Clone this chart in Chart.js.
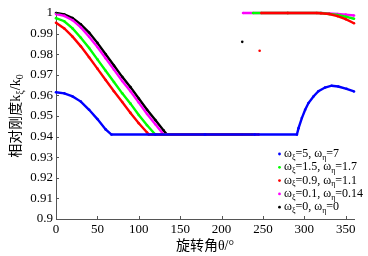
<!DOCTYPE html>
<html>
<head>
<meta charset="utf-8">
<script src="https://cdn.jsdelivr.net/npm/chart.js@4"></script>
<style>
  html, body { margin: 0; padding: 0; background: #fff; }
</style>
</head>
<body>
<canvas id="chart1" width="368" height="256"></canvas>
<script>
// rotation angle (deg) -> relative stiffness k_xi/k_0
const blueAngle = [0, 10, 20, 30, 40, 50, 60, 67, 120, 180, 240, 291, 293, 297, 301, 305, 311, 317, 325, 333, 341, 351, 360];
const blueK = [0.9615, 0.961, 0.9595, 0.957, 0.953, 0.9485, 0.9435, 0.941, 0.941, 0.941, 0.941, 0.941, 0.9441, 0.949, 0.953, 0.9563, 0.9595, 0.962, 0.9638, 0.9647, 0.9643, 0.9632, 0.9619];

const greenAngle = [0, 10, 20, 30, 40, 50, 60, 70, 80, 90, 100, 110, 120, 180, 237, 237.5, 238, 280, 320, 330, 340, 350, 360];
const greenK = [0.9975, 0.996, 0.9925, 0.988, 0.983, 0.9775, 0.972, 0.9665, 0.961, 0.956, 0.9505, 0.9455, 0.941, 0.941, 0.941, null, 1, 1, 1, 0.9995, 0.999, 0.9982, 0.9972];

const redAngle = [0, 10, 20, 30, 40, 50, 60, 70, 80, 90, 100, 110, 112, 180, 245, 245.5, 246, 246.5, 248, 280, 315, 320, 330, 340, 350, 360];
const redK = [0.9953, 0.9925, 0.9885, 0.9838, 0.9785, 0.973, 0.9675, 0.962, 0.9568, 0.9515, 0.9465, 0.942, 0.941, 0.941, 0.941, null, 0.9817, null, 1, 1, 1, 0.9999, 0.9995, 0.9985, 0.997, 0.995];

const magentaAngle = [0, 10, 20, 30, 40, 50, 60, 70, 80, 90, 100, 110, 120, 130, 180, 225, 225.5, 226, 280, 320, 330, 340, 350, 360];
const magentaK = [0.9995, 0.9986, 0.9965, 0.993, 0.9885, 0.9835, 0.978, 0.9725, 0.967, 0.962, 0.9565, 0.951, 0.946, 0.941, 0.941, 0.941, null, 1, 1, 1, 0.9998, 0.9995, 0.9992, 0.9988];

const blackAngle = [0, 10, 20, 30, 40, 50, 60, 70, 80, 90, 100, 110, 120, 130, 134, 180, 224, 224.5, 225];
const blackK = [1.0, 0.9993, 0.9975, 0.9945, 0.9905, 0.9855, 0.980, 0.9745, 0.969, 0.964, 0.9585, 0.953, 0.948, 0.943, 0.941, 0.941, 0.941, null, 0.986];

// legend: omega_xi, omega_eta
const omegaXi = ['5', '1.5', '0.9', '0.1', '0'];
const omegaEta = ['7', '1.7', '1.1', '0.14', '0'];
const colors = ['#0000ff', '#00ff00', '#ff0000', '#ff00ff', '#000000'];

const xTicks = [0, 50, 100, 150, 200, 250, 300, 350];

function pts(xs, ys) {
    return xs.map((x, i) => ({ x: x, y: ys[i] }));
}

function makeSet(label, xs, ys, color, order) {
    return {
        label: label,
        data: pts(xs, ys),
        borderColor: color,
        backgroundColor: color,
        borderWidth: 2.4,
        pointRadius: 1.3,
        pointBorderWidth: 0,
        showLine: true,
        spanGaps: false,
        clip: false,
        order: order
    };
}

const serif = "'Liberation Serif', 'Times New Roman', serif";
const cjk = "'Liberation Serif', 'Noto Sans CJK SC', serif";

// draws text parts with subscripts, starting at x (left aligned), baseline middle at y
function richWidth(ctx, parts, size) {
    let w = 0;
    parts.forEach(p => {
        ctx.font = (p.sub ? Math.round(size * 0.7) : size) + 'px ' + (p.cjk ? cjk : serif);
        w += ctx.measureText(p.t).width;
    });
    return w;
}
function drawRich(ctx, parts, x, y, size) {
    parts.forEach(p => {
        ctx.font = (p.sub ? Math.round(size * 0.7) : size) + 'px ' + (p.cjk ? cjk : serif);
        ctx.fillText(p.t, x, p.sub ? y + size * 0.3 : y);
        x += ctx.measureText(p.t).width;
    });
}

const extras = {
    id: 'extras',
    afterDraw(chart) {
        const ctx = chart.ctx;
        const area = chart.chartArea;
        const xs = chart.scales.x, ys = chart.scales.y;
        ctx.save();
        // inward tick marks
        ctx.strokeStyle = '#555';
        ctx.lineWidth = 1;
        ctx.beginPath();
        xs.ticks.forEach(t => {
            const px = Math.round(xs.getPixelForValue(t.value)) + 0.5;
            ctx.moveTo(px, area.bottom);
            ctx.lineTo(px, area.bottom - 3);
        });
        ys.ticks.forEach(t => {
            const py = Math.round(ys.getPixelForValue(t.value)) + 0.5;
            ctx.moveTo(area.left, py);
            ctx.lineTo(area.left + 3, py);
        });
        ctx.stroke();

        ctx.fillStyle = '#000';
        ctx.textBaseline = 'middle';
        ctx.textAlign = 'left';

        // x axis title
        const xt = [{ t: '旋转角', cjk: true }, { t: 'θ/°' }];
        const xw = richWidth(ctx, xt, 14);
        drawRich(ctx, xt, (area.left + area.right) / 2 - xw / 2, 246, 14);

        // y axis title
        const yt = [{ t: '相对刚度', cjk: true }, { t: 'k' }, { t: 'ξ', sub: true }, { t: '/k' }, { t: '0', sub: true }];
        const yw = richWidth(ctx, yt, 14);
        ctx.save();
        ctx.translate(16, (area.top + area.bottom) / 2);
        ctx.rotate(-Math.PI / 2);
        drawRich(ctx, yt, -yw / 2, 0, 14);
        ctx.restore();

        // legend
        for (let i = 0; i < omegaXi.length; i++) {
            const ly = 154 + i * 13.3;
            ctx.fillStyle = colors[i];
            ctx.beginPath();
            ctx.arc(279.5, ly, 1.4, 0, Math.PI * 2);
            ctx.fill();
            ctx.fillStyle = '#000';
            drawRich(ctx, [
                { t: 'ω' }, { t: 'ξ', sub: true }, { t: '=' + omegaXi[i] + ', ω' },
                { t: 'η', sub: true }, { t: '=' + omegaEta[i] }
            ], 284, ly, 12);
        }
        ctx.restore();
    }
};

var ctx1 = document.getElementById('chart1').getContext('2d');
var chart1 = new Chart(ctx1, {
    type: 'scatter',
    data: {
        datasets: [
            makeSet('ωξ=5, ωη=7', blueAngle, blueK, colors[0], 1),
            makeSet('ωξ=1.5, ωη=1.7', greenAngle, greenK, colors[1], 3),
            makeSet('ωξ=0.9, ωη=1.1', redAngle, redK, colors[2], 2),
            makeSet('ωξ=0.1, ωη=0.14', magentaAngle, magentaK, colors[3], 4),
            makeSet('ωξ=0, ωη=0', blackAngle, blackK, colors[4], 5)
        ]
    },
    options: {
        responsive: false,
        animation: false,
        devicePixelRatio: 1,
        layout: { padding: { left: 0, right: 14, top: 13, bottom: 0 } },
        plugins: {
            legend: { display: false },
            tooltip: { enabled: false }
        },
        scales: {
            x: {
                type: 'linear',
                min: 0,
                max: 360,
                afterFit: function (scale) { scale.height = 37; },
                afterBuildTicks: function (scale) {
                    scale.ticks = xTicks.map(v => ({ value: v }));
                },
                grid: { display: false, drawTicks: false },
                border: { display: true, color: '#555', width: 1 },
                ticks: {
                    padding: 3,
                    color: '#000',
                    font: { family: serif, size: 13 },
                    maxRotation: 0,
                    autoSkip: false
                }
            },
            y: {
                type: 'linear',
                min: 0.9,
                max: 1,
                afterFit: function (scale) { scale.width = 56; },
                grid: { display: false, drawTicks: false },
                border: { display: true, color: '#555', width: 1 },
                ticks: {
                    stepSize: 0.01,
                    padding: 3,
                    color: '#000',
                    font: { family: serif, size: 13 },
                    callback: v => String(+v.toFixed(2))
                }
            }
        }
    },
    plugins: [extras]
});
</script>
</body>
</html>
